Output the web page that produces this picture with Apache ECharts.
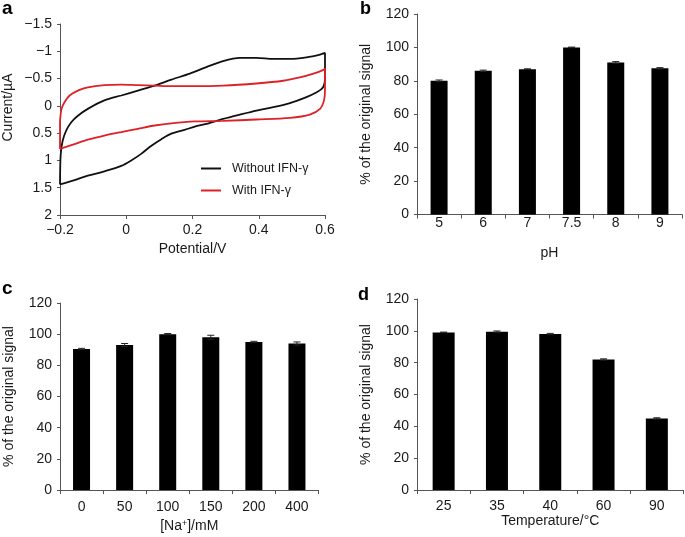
<!DOCTYPE html>
<html>
<head>
<meta charset="utf-8">
<script src="https://cdn.jsdelivr.net/npm/echarts@6/dist/echarts.min.js"></script>
<style>html,body{margin:0;padding:0;background:#fff}#c{width:685px;height:537px}</style>
</head>
<body>
<div id="c"></div>
<script>
// Panel a: cyclic voltammograms (potential V, current µA)
const blackV = [-0.2,-0.198,-0.192,-0.181,-0.166,-0.146,-0.116,-0.066,-0.015,0.035,0.086,0.136,0.192,0.242,0.292,0.343,0.393,0.444,0.494,0.544,0.585,0.6,
  0.6,0.597,0.59,0.575,0.544,0.494,0.444,0.393,0.343,0.292,0.242,0.207,0.176,0.136,0.106,0.076,0.045,0.015,-0.015,-0.066,-0.116,-0.156,-0.2];
const blackI = [1.44,0.9,0.64,0.45,0.30,0.18,0.055,-0.10,-0.19,-0.28,-0.37,-0.48,-0.59,-0.71,-0.82,-0.88,-0.88,-0.86,-0.86,-0.89,-0.94,-0.97,
  -0.5,-0.38,-0.31,-0.25,-0.16,-0.05,0.024,0.086,0.16,0.24,0.33,0.38,0.44,0.51,0.61,0.73,0.88,1.00,1.10,1.20,1.28,1.36,1.44];
const redV = [-0.2,-0.2,-0.198,-0.195,-0.186,-0.171,-0.146,-0.116,-0.066,-0.015,0.035,0.086,0.136,0.207,0.292,0.393,0.474,0.524,0.565,0.595,0.6,
  0.6,0.597,0.585,0.554,0.494,0.393,0.292,0.207,0.136,0.086,0.035,-0.015,-0.066,-0.116,-0.156,-0.2];
const redI = [0.79,0.3,0.15,0.05,-0.07,-0.19,-0.28,-0.34,-0.38,-0.39,-0.38,-0.37,-0.36,-0.36,-0.37,-0.41,-0.46,-0.52,-0.59,-0.66,-0.69,
  -0.3,-0.10,0.055,0.16,0.22,0.25,0.275,0.285,0.32,0.36,0.42,0.48,0.545,0.62,0.70,0.79];
const seriesNames = ['Without IFN-\u03b3', 'With IFN-\u03b3'];

// Panel b: pH
const phCats = ['5','6','7','7.5','8','9'];
const phVals = [80, 86, 87, 100, 91, 87.5];
const phErr  = [0.5, 0.4, 0.2, 0.2, 0.5, 0.4];
// Panel c: [Na+]
const naCats = ['0','50','100','150','200','400'];
const naVals = [90.5, 93, 100, 98, 95, 94];
const naErr  = [0.4, 1.0, 0.4, 1.3, 0.4, 1.0];
// Panel d: temperature
const tCats = ['25','35','40','60','90'];
const tVals = [99, 99.5, 98, 82, 45];
const tErr  = [0.2, 0.4, 0.4, 0.4, 0.4];

const FONT = 'Liberation Sans';
const FS = 14;
const AX = '#555';
const TXT = '#1a1a1a';
const zip = (a, b) => a.map((v, i) => [v, b[i]]);
const minus = v => String(v).replace('-', '\u2212');

function catX(gi, cats, name, gap, margin) {
  return {
    type: 'category', gridIndex: gi, data: cats,
    axisLine: { lineStyle: { color: AX } },
    axisTick: { show: true, length: 4, lineStyle: { color: AX } },
    axisLabel: { color: TXT, fontSize: FS, fontFamily: FONT, margin: margin },
    name: name, nameLocation: 'middle', nameGap: gap,
    nameTextStyle: { color: TXT, fontSize: FS, fontFamily: FONT,
      rich: { sup: { fontSize: 9, verticalAlign: 'top', color: TXT, fontFamily: FONT, padding: [0,0,6,0] } } }
  };
}
function pctY(gi) {
  return {
    type: 'value', gridIndex: gi, min: 0, max: 120, interval: 20,
    splitLine: { show: false },
    axisLine: { show: true, lineStyle: { color: AX } },
    axisTick: { show: true, length: 3, lineStyle: { color: AX } },
    axisLabel: { color: TXT, fontSize: FS, fontFamily: FONT, margin: 8 },
    name: '% of the original signal', nameLocation: 'middle', nameGap: 44,
    nameTextStyle: { color: TXT, fontSize: FS, fontFamily: FONT }
  };
}
function errSeries(xi, vals, errs) {
  return {
    type: 'custom', xAxisIndex: xi, yAxisIndex: xi, z: 5,
    data: vals.map((v, i) => [i, v, errs[i]]),
    renderItem: function (params, api) {
      const i = api.value(0), v = api.value(1), e = api.value(2);
      const hi = api.coord([i, v + e]), lo = api.coord([i, v - e]);
      const w = 3.5;
      const st = { stroke: '#222', lineWidth: 1 };
      return { type: 'group', children: [
        { type: 'line', shape: { x1: hi[0], y1: hi[1], x2: lo[0], y2: lo[1] }, style: st },
        { type: 'line', shape: { x1: hi[0]-w, y1: hi[1], x2: hi[0]+w, y2: hi[1] }, style: st },
        { type: 'line', shape: { x1: lo[0]-w, y1: lo[1], x2: lo[0]+w, y2: lo[1] }, style: st }
      ]};
    }
  };
}

const chart = echarts.init(document.getElementById('c'), null, { renderer: 'canvas' });
chart.setOption({
  animation: false,
  backgroundColor: '#fff',
  textStyle: { fontFamily: FONT },
  grid: [
    { left: 60, top: 24, width: 265, height: 191 },
    { left: 417, top: 14, width: 265, height: 200.5 },
    { left: 60, top: 303, width: 258.5, height: 187 },
    { left: 417, top: 299, width: 266.5, height: 191 }
  ],
  legend: {
    orient: 'vertical', left: 201, top: 162, padding: 0,
    icon: 'rect', itemWidth: 20, itemHeight: 2, itemGap: 9,
    data: seriesNames,
    textStyle: { color: TXT, fontSize: 12.5, fontFamily: FONT, padding: [0,0,0,6] }
  },
  xAxis: [
    {
      type: 'value', gridIndex: 0, min: -0.2, max: 0.6, interval: 0.2,
      splitLine: { show: false },
      axisLine: { onZero: false, lineStyle: { color: AX } },
      axisTick: { show: true, length: 4, lineStyle: { color: AX } },
      axisLabel: { color: TXT, fontSize: FS, fontFamily: FONT, margin: 8, formatter: minus },
      name: 'Potential/V', nameLocation: 'middle', nameGap: 27,
      nameTextStyle: { color: TXT, fontSize: FS, fontFamily: FONT }
    },
    catX(1, phCats, 'pH', 32, 2),
    catX(2, naCats, '[Na{sup|+}]/mM', 29, 10),
    catX(3, tCats, 'Temperature/\u00b0C', 21, 9)
  ],
  yAxis: [
    {
      type: 'value', gridIndex: 0, min: -1.5, max: 2, interval: 0.5, inverse: true,
      splitLine: { show: false },
      axisLine: { show: true, onZero: false, lineStyle: { color: AX } },
      axisTick: { show: true, length: 3, lineStyle: { color: AX } },
      axisLabel: { color: TXT, fontSize: FS, fontFamily: FONT, margin: 8, formatter: minus },
      name: 'Current/\u00b5A', nameLocation: 'middle', nameGap: 45,
      nameTextStyle: { color: TXT, fontSize: FS, fontFamily: FONT, padding: [0,0,0,24] }
    },
    pctY(1), pctY(2), pctY(3)
  ],
  series: [
    { name: seriesNames[0], type: 'line', xAxisIndex: 0, yAxisIndex: 0, data: zip(blackV, blackI),
      symbol: 'none', smooth: 0.3, lineStyle: { color: '#111', width: 1.8 }, itemStyle: { color: '#111' } },
    { name: seriesNames[1], type: 'line', xAxisIndex: 0, yAxisIndex: 0, data: zip(redV, redI),
      symbol: 'none', smooth: 0.3, lineStyle: { color: '#dc2228', width: 1.8 }, itemStyle: { color: '#dc2228' } },
    { type: 'bar', xAxisIndex: 1, yAxisIndex: 1, data: phVals, barWidth: 17, itemStyle: { color: '#000' } },
    errSeries(1, phVals, phErr),
    { type: 'bar', xAxisIndex: 2, yAxisIndex: 2, data: naVals, barWidth: 17, itemStyle: { color: '#000' } },
    errSeries(2, naVals, naErr),
    { type: 'bar', xAxisIndex: 3, yAxisIndex: 3, data: tVals, barWidth: 22, itemStyle: { color: '#000' } },
    errSeries(3, tVals, tErr)
  ],
  graphic: [
    { type: 'text', left: 2, top: -1, style: { text: 'a', font: 'bold 19px ' + FONT, fill: '#000' } },
    { type: 'text', left: 360, top: 0, style: { text: 'b', font: 'bold 18px ' + FONT, fill: '#000' } },
    { type: 'text', left: 2, top: 279, style: { text: 'c', font: 'bold 19px ' + FONT, fill: '#000' } },
    { type: 'text', left: 358, top: 286, style: { text: 'd', font: 'bold 18px ' + FONT, fill: '#000' } }
  ]
});
</script>
</body>
</html>
